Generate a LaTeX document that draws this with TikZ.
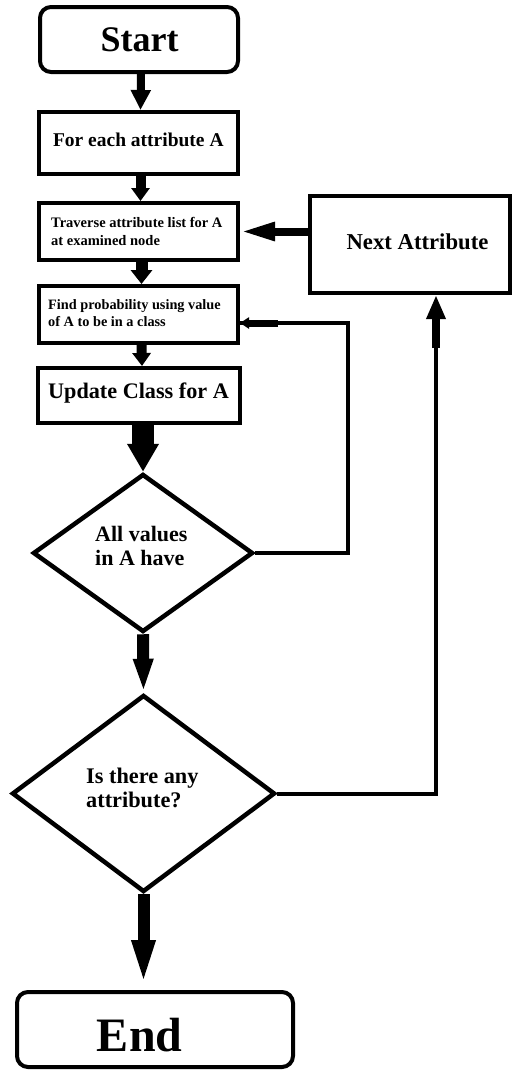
\documentclass[tikz,border=0pt]{standalone}
\usepackage{fontspec}
\setmainfont{Liberation Serif}
\usetikzlibrary{arrows.meta,shapes.geometric}
\tikzset{
  termbox/.style={draw, line width=4pt, rounded corners=11pt, inner sep=0pt},
  procbox/.style={draw, line width=4pt, inner sep=0pt},
  decision/.style={draw, diamond, line width=4.5pt, inner sep=0pt},
  txt/.style={inner sep=0pt, anchor=base west},
  ctxt/.style={inner sep=0pt, anchor=base},
  thinline/.style={line width=4pt, line join=miter},
  fatarrow/.style n args={3}{line width=#1, -{Triangle[length=#2,width=#3]}}
}
\newcommand{\twolines}[2]{\vtop{\hbox{#1}\hbox{#2}}}
\begin{document}
\begin{tikzpicture}[x=1pt,y=-1pt]
\useasboundingbox (0,0) rectangle (514,1071);

% shapes
\node[termbox, minimum width=198pt, minimum height=65pt] (start) at (139,39.5) {};
\node[procbox, minimum width=199pt, minimum height=62pt] (foreach) at (138.5,143) {};
\node[procbox, minimum width=199pt, minimum height=57pt] (trav) at (138.5,231.5) {};
\node[procbox, minimum width=199pt, minimum height=57pt] (find) at (138.5,314.5) {};
\node[procbox, minimum width=202pt, minimum height=55pt] (update) at (139,395.5) {};
\node[procbox, minimum width=200pt, minimum height=97pt] (next) at (410,244.5) {};
\node[decision, minimum width=220pt, minimum height=158pt] (d1) at (143,553) {};
\node[decision, minimum width=263pt, minimum height=197pt] (d2) at (143.5,793.5) {};
\node[termbox, minimum width=276pt, minimum height=75pt] (endbox) at (155,1029.5) {};

% texts
\node[ctxt, font=\bfseries\fontsize{36}{40}\selectfont] (start-t) at (139.7,51.7) {Start};
\node[ctxt, font=\bfseries\fontsize{19.5}{23}\selectfont] (foreach-t) at (138.3,146.7) {For each attribute A};
\node[txt, font=\bfseries\fontsize{14.5}{17.7}\selectfont] (trav-t) at (51,227.3)
  {\twolines{Traverse attribute list for A}{at examined node}};
\node[txt, font=\bfseries\fontsize{14.3}{17.7}\selectfont] (find-t) at (48,309)
  {\twolines{Find probability using value}{of A to be in a class}};
\node[ctxt, font=\bfseries\fontsize{22.2}{26}\selectfont] (update-t) at (138.5,398) {Update Class for A};
\node[ctxt, font=\bfseries\fontsize{22.7}{27}\selectfont] (next-t) at (417.5,249) {Next Attribute};
\node[txt, font=\bfseries\fontsize{22}{24}\selectfont] (d1-t) at (95,541)
  {\twolines{All values}{in A have}};
\node[txt, font=\bfseries\fontsize{22.3}{24.5}\selectfont] (d2-t) at (86,783)
  {\twolines{Is there any}{attribute?}};
\node[ctxt, font=\bfseries\fontsize{48}{54}\selectfont] (end-t) at (139.7,1051.7) {End};

% main flow
\draw[fatarrow={8pt}{20pt}{19pt}] ([xshift=2pt]start.south) -- ([xshift=2pt]foreach.north);
\draw[fatarrow={10pt}{13pt}{18pt}] ([xshift=2pt]foreach.south) -- ([xshift=2pt]trav.north);
\draw[fatarrow={12pt}{14pt}{21pt}] ([xshift=3pt]trav.south) -- ([xshift=3pt]find.north);
\draw[fatarrow={10pt}{13pt}{18pt}] ([xshift=3pt]find.south) -- ([xshift=3pt]update.north);
\draw[fatarrow={22pt}{28pt}{30pt}] (update.south -| d1.north) -- (d1.north);
\draw[fatarrow={12pt}{34pt}{18pt}] (d1.south) -- (d2.north);
\draw[fatarrow={12pt}{50pt}{20pt}] (d2.south) -- (d2.south |- endbox.north);

% next attribute back to the traversal
\draw[fatarrow={8pt}{35pt}{17pt}] (trav.east -| next.west) -- (trav.east);

% loop from the first decision back to the probability step
\coordinate (lp1) at (348,323);
\coordinate (lp2) at (278,323);
\draw[thinline] (d1.east) -| (lp1) -- (lp1 -| find.east);
\draw[fatarrow={7pt}{9pt}{11pt}] (lp2) -- (lp2 -| find.east);

% loop from the second decision up to the next attribute
\coordinate (lq) at (436,348);
\draw[thinline] (d2.east) -| (lq);
\draw[fatarrow={8pt}{24pt}{18pt}] (lq) -- (lq |- next.south);
\end{tikzpicture}
\end{document}
